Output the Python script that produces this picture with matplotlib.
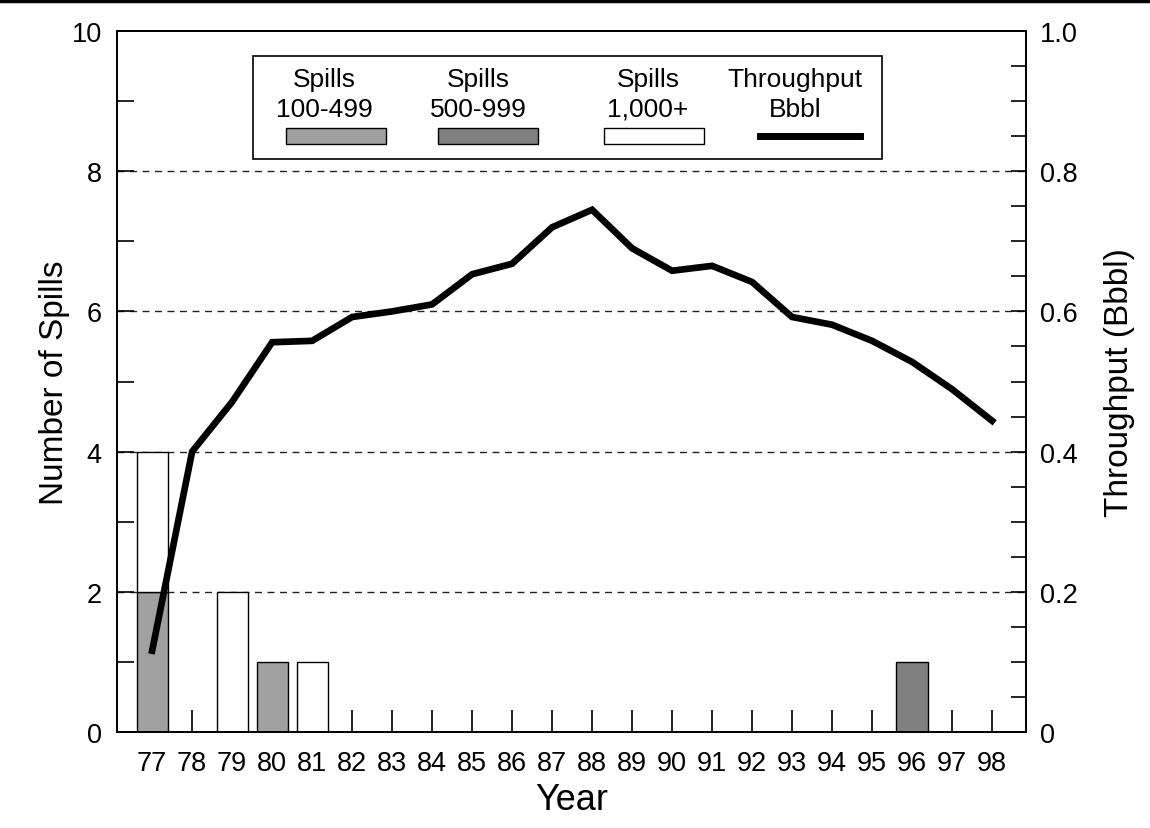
import matplotlib
matplotlib.use("Agg")
import matplotlib.pyplot as plt
from matplotlib.patches import Rectangle
from matplotlib.lines import Line2D
import numpy as np

plt.rcParams['font.family'] = ['Liberation Sans', 'DejaVu Sans']

# data
years = [77, 78, 79, 80, 81, 82, 83, 84, 85, 86, 87, 88, 89, 90, 91, 92, 93, 94, 95, 96, 97, 98]
spills_100_499 = [2, 0, 0, 1, 0, 0, 0, 0, 0, 0, 0, 0, 0, 0, 0, 0, 0, 0, 0, 0, 0, 0]
spills_500_999 = [0, 0, 0, 0, 0, 0, 0, 0, 0, 0, 0, 0, 0, 0, 0, 0, 0, 0, 0, 1, 0, 0]
spills_1000 = [2, 0, 2, 0, 1, 0, 0, 0, 0, 0, 0, 0, 0, 0, 0, 0, 0, 0, 0, 0, 0, 0]
throughput = [0.116, 0.400, 0.471, 0.556, 0.558, 0.592, 0.600, 0.610, 0.653, 0.668, 0.720,
              0.745, 0.690, 0.658, 0.665, 0.642, 0.592, 0.581, 0.558, 0.528, 0.489, 0.444]

legend_titles = ["Spills\n100-499", "Spills\n500-999", "Spills\n1,000+", "Throughput\nBbbl"]
col_light = "#a0a0a0"
col_dark = "#808080"

fig = plt.figure(figsize=(11.5, 8.29), dpi=100)
ax = fig.add_axes([0.1017, 0.1158, 0.7905, 0.8456])
ax2 = ax.twinx()

x = np.array(years)
s1 = np.array(spills_100_499)
s2 = np.array(spills_500_999)
s3 = np.array(spills_1000)
w = 0.78

# gridlines
for g in [2, 4, 6, 8]:
    ax.axhline(g, color="#222222", lw=1.0, ls=(0, (5, 4)), zorder=1)

m = s1 > 0
ax.bar(x[m], s1[m], width=w, color=col_light, edgecolor="black", lw=1, zorder=2)
m = s2 > 0
ax.bar(x[m], s2[m], width=w, bottom=s1[m], color=col_dark, edgecolor="black", lw=1, zorder=2)
m = s3 > 0
ax.bar(x[m], s3[m], width=w, bottom=(s1 + s2)[m], color="white", edgecolor="black", lw=1, zorder=2)

ax2.plot(x, throughput, color="black", lw=4.8, solid_joinstyle="miter", zorder=5)

ax.set_xlim(76.12, 98.85)
ax.set_ylim(0, 10)
ax2.set_ylim(0, 1.0)

ax.set_xticks(years)
ax.set_xticklabels([str(y) for y in years])
ax.set_yticks([0, 2, 4, 6, 8, 10])
ax.set_yticklabels(["0", "2", "4", "6", "8", "10"])
ax.set_yticks(np.arange(1, 10, 2), minor=True)
ax2.set_yticks([0, 0.2, 0.4, 0.6, 0.8, 1.0])
ax2.set_yticklabels(["0", "0.2", "0.4", "0.6", "0.8", "1.0"])
ax2.set_yticks(np.arange(0.05, 1.0, 0.05), minor=True)

ax.tick_params(axis="x", direction="in", length=16, width=1.2, labelsize=19.5, pad=13, top=False)
ax.tick_params(axis="y", which="both", direction="in", length=12, width=1.2, labelsize=19.5, pad=11, right=False)
ax2.tick_params(axis="y", which="both", direction="in", length=11, width=1.2, labelsize=19.5, pad=10)

for a in (ax, ax2):
    for sp in a.spines.values():
        sp.set_linewidth(1.3)

ax.set_xlabel("Year", fontsize=26)
ax.set_ylabel("Number of Spills", fontsize=24)
ax2.set_ylabel("Throughput (Bbbl)", fontsize=24)
ax.xaxis.set_label_coords(0.5, -0.072)
ax.yaxis.set_label_coords(-0.052, 0.5)
ax2.yaxis.set_label_coords(1.086, 0.5)

# legend box drawn by hand (text above swatches)
tr = ax.transAxes
ax2.add_patch(Rectangle((0.1496, 0.8174), 0.692, 0.1469, transform=tr, fill=False,
                        edgecolor="black", lw=1.2, zorder=10, clip_on=False))
text_x = [0.2277, 0.3971, 0.5842, 0.7459]
sw_x = [0.1859, 0.3531, 0.5357, 0.7074]
sw_w = 0.110
sw_y = 0.8388
sw_h = 0.0228
fills = [col_light, col_dark, "white"]
for i, t in enumerate(legend_titles):
    ax2.text(text_x[i], 0.910, t, transform=tr, ha="center", va="center", fontsize=19,
             linespacing=1.28, zorder=11)
    if i < 3:
        ax2.add_patch(Rectangle((sw_x[i], sw_y), sw_w, sw_h, transform=tr, facecolor=fills[i],
                                edgecolor="black", lw=1, zorder=11, clip_on=False))
    else:
        ax2.add_line(Line2D([sw_x[i], sw_x[i] + sw_w], [sw_y + sw_h / 2] * 2, transform=tr,
                            color="black", lw=5, zorder=11))

# black rule across the very top of the figure
fig.add_artist(Line2D([0, 1], [0.998, 0.998], transform=fig.transFigure, color="black", lw=2.5))

fig.savefig("out.png", dpi=100)
